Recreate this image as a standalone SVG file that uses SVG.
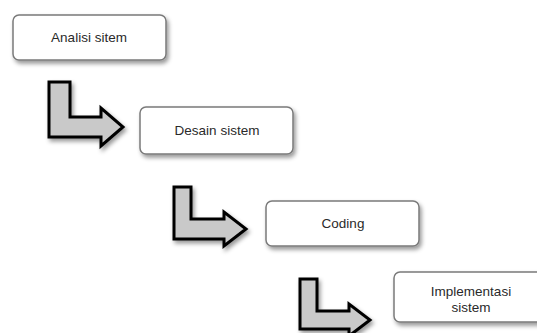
<svg xmlns="http://www.w3.org/2000/svg" width="537" height="333" viewBox="0 0 537 333">
<defs>
<filter id="sh" x="-20%" y="-20%" width="150%" height="160%">
<feDropShadow dx="2" dy="3" stdDeviation="2" flood-color="#000" flood-opacity="0.4"/>
</filter>
<style>
.box{fill:#fff;stroke:#7a7a7a;stroke-width:1.5;filter:url(#sh)}
.arr{fill:#c9c9c9;stroke:#000;stroke-width:3;stroke-linejoin:miter;filter:url(#sh)}
.t{font-family:"Liberation Sans",Arial,sans-serif;font-size:13.5px;fill:#2a2a2a;text-anchor:middle}
</style>
</defs>
<rect width="537" height="333" fill="#fff"/>
<g id="connectors">
<path class="arr" d="M49,82 H70 V117 H101 V108 L123,127 L101,146 V137 H49 Z"/>
<path class="arr" d="M174,187 H191 V219 H224 V212 L246,229 L224,246 V239 H174 Z"/>
<path class="arr" d="M300,279 H317 V311 H349 V304 L370,320 L349,336 V329 H300 Z"/>
</g>
<g id="n1">
<rect class="box" x="13" y="15" width="153" height="45" rx="6"/>
<text class="t" x="89" y="42">Analisi sitem</text>
</g>
<g id="n2">
<rect class="box" x="140" y="107" width="153" height="47" rx="6"/>
<text class="t" x="217" y="135">Desain sistem</text>
</g>
<g id="n3">
<rect class="box" x="266" y="201" width="153" height="45" rx="6"/>
<text class="t" x="343" y="228">Coding</text>
</g>
<g id="n4">
<rect class="box" x="394" y="272" width="153" height="50" rx="6"/>
<text class="t" x="471" y="296">Implementasi</text>
<text class="t" x="471" y="312">sistem</text>
</g>
</svg>
